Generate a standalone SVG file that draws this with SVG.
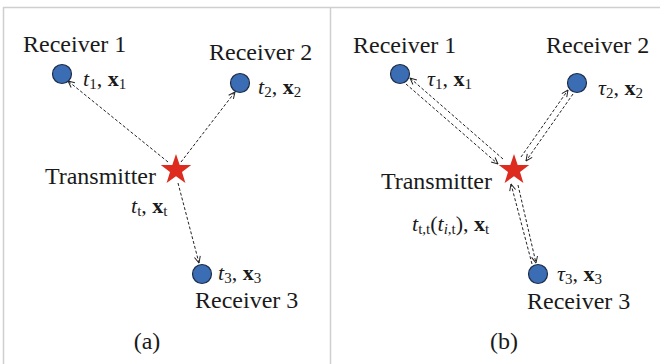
<svg xmlns="http://www.w3.org/2000/svg" width="660" height="364" viewBox="0 0 660 364">
<style>
.lbl{font-family:"Liberation Serif","Times New Roman",serif;font-size:24px;fill:#1a1a1a}
.m{font-family:"Liberation Serif","Times New Roman",serif;font-size:22px;fill:#1a1a1a}
.it{font-style:italic}
.bf{font-weight:bold}
.sub{font-size:15px}
.rx{fill:#3b6db4;stroke:#1d2c48;stroke-width:1.2}
.st{fill:#dd2b20}
.c{fill:none;stroke:#222;stroke-width:1;stroke-dasharray:3 2;marker-end:url(#ah)}
.frame{stroke:#cfcfcf;stroke-width:1.5;fill:none}
</style>
<defs>
<marker id="ah" viewBox="0 0 8 8" refX="7.5" refY="4" markerWidth="8" markerHeight="8" markerUnits="userSpaceOnUse" orient="auto">
<path d="M1,1 L7.5,4 L1,7" fill="none" stroke="#222" stroke-width="1"/>
</marker>
<polygon id="star" points="0,-16 3.7,-5.1 15.22,-4.94 5.99,1.95 9.4,12.94 0,6.3 -9.4,12.94 -5.99,1.95 -15.22,-4.94 -3.7,-5.1"/>
</defs>
<rect width="660" height="364" fill="#fff"/>
<g id="frame">
<path class="frame" d="M3,7.5 H660 M3.5,7 V364 M330.5,7 V364"/>
</g>

<g id="connectors">
<line class="c" x1="168" y1="162" x2="68" y2="81"/>
<line class="c" x1="181" y1="162" x2="235" y2="92"/>
<line class="c" x1="178" y1="183" x2="199" y2="263"/>
<line class="c" x1="503" y1="159" x2="410" y2="78"/>
<line class="c" x1="406" y1="84" x2="498" y2="164"/>
<line class="c" x1="521" y1="157" x2="568" y2="90"/>
<line class="c" x1="573" y1="94" x2="526" y2="161"/>
<line class="c" x1="518" y1="185" x2="536" y2="263"/>
<line class="c" x1="532" y1="264" x2="511" y2="184"/>
</g>

<g id="a-receiver1">
<circle class="rx" cx="62" cy="74" r="9.5"/>
<text class="lbl" x="23" y="52">Receiver 1</text>
<text class="m" x="83" y="86"><tspan class="it">t</tspan><tspan class="sub" dy="3">1</tspan><tspan dy="-3">, </tspan><tspan class="bf">x</tspan><tspan class="sub" dy="3">1</tspan></text>
</g>
<g id="a-receiver2">
<circle class="rx" cx="240" cy="83" r="9.5"/>
<text class="lbl" x="209" y="60">Receiver 2</text>
<text class="m" x="258" y="94"><tspan class="it">t</tspan><tspan class="sub" dy="3">2</tspan><tspan dy="-3">, </tspan><tspan class="bf">x</tspan><tspan class="sub" dy="3">2</tspan></text>
</g>
<g id="a-transmitter">
<use href="#star" x="176" y="170" class="st"/>
<text class="lbl" x="156" y="184" text-anchor="end">Transmitter</text>
<text class="m" x="131" y="213"><tspan class="it">t</tspan><tspan class="sub" dy="3">t</tspan><tspan dy="-3">, </tspan><tspan class="bf">x</tspan><tspan class="sub" dy="3">t</tspan></text>
</g>
<g id="a-receiver3">
<circle class="rx" cx="202" cy="274" r="9.5"/>
<text class="m" x="218" y="280"><tspan class="it">t</tspan><tspan class="sub" dy="3">3</tspan><tspan dy="-3">, </tspan><tspan class="bf">x</tspan><tspan class="sub" dy="3">3</tspan></text>
<text class="lbl" x="195" y="308">Receiver 3</text>
</g>
<text class="lbl" x="147" y="349" text-anchor="middle">(a)</text>

<g id="b-receiver1">
<circle class="rx" cx="400" cy="74" r="9.5"/>
<text class="lbl" x="353" y="53">Receiver 1</text>
<text class="m" x="427" y="86"><tspan class="it">τ</tspan><tspan class="sub" dy="3">1</tspan><tspan dy="-3">, </tspan><tspan class="bf">x</tspan><tspan class="sub" dy="3">1</tspan></text>
</g>
<g id="b-receiver2">
<circle class="rx" cx="577" cy="83" r="9.5"/>
<text class="lbl" x="546" y="53">Receiver 2</text>
<text class="m" x="598" y="95"><tspan class="it">τ</tspan><tspan class="sub" dy="3">2</tspan><tspan dy="-3">, </tspan><tspan class="bf">x</tspan><tspan class="sub" dy="3">2</tspan></text>
</g>
<g id="b-transmitter">
<use href="#star" x="514" y="170" class="st"/>
<text class="lbl" x="492" y="189" text-anchor="end">Transmitter</text>
<text class="m" x="412" y="231"><tspan class="it">t</tspan><tspan class="sub" dy="3">t,t</tspan><tspan dy="-3">(</tspan><tspan class="it">t</tspan><tspan class="sub" dy="3"><tspan class="it">i</tspan>,t</tspan><tspan dy="-3">), </tspan><tspan class="bf">x</tspan><tspan class="sub" dy="3">t</tspan></text>
</g>
<g id="b-receiver3">
<circle class="rx" cx="538" cy="274" r="9.5"/>
<text class="m" x="557" y="281"><tspan class="it">τ</tspan><tspan class="sub" dy="3">3</tspan><tspan dy="-3">, </tspan><tspan class="bf">x</tspan><tspan class="sub" dy="3">3</tspan></text>
<text class="lbl" x="527" y="309">Receiver 3</text>
</g>
<text class="lbl" x="504" y="349" text-anchor="middle">(b)</text>
</svg>
